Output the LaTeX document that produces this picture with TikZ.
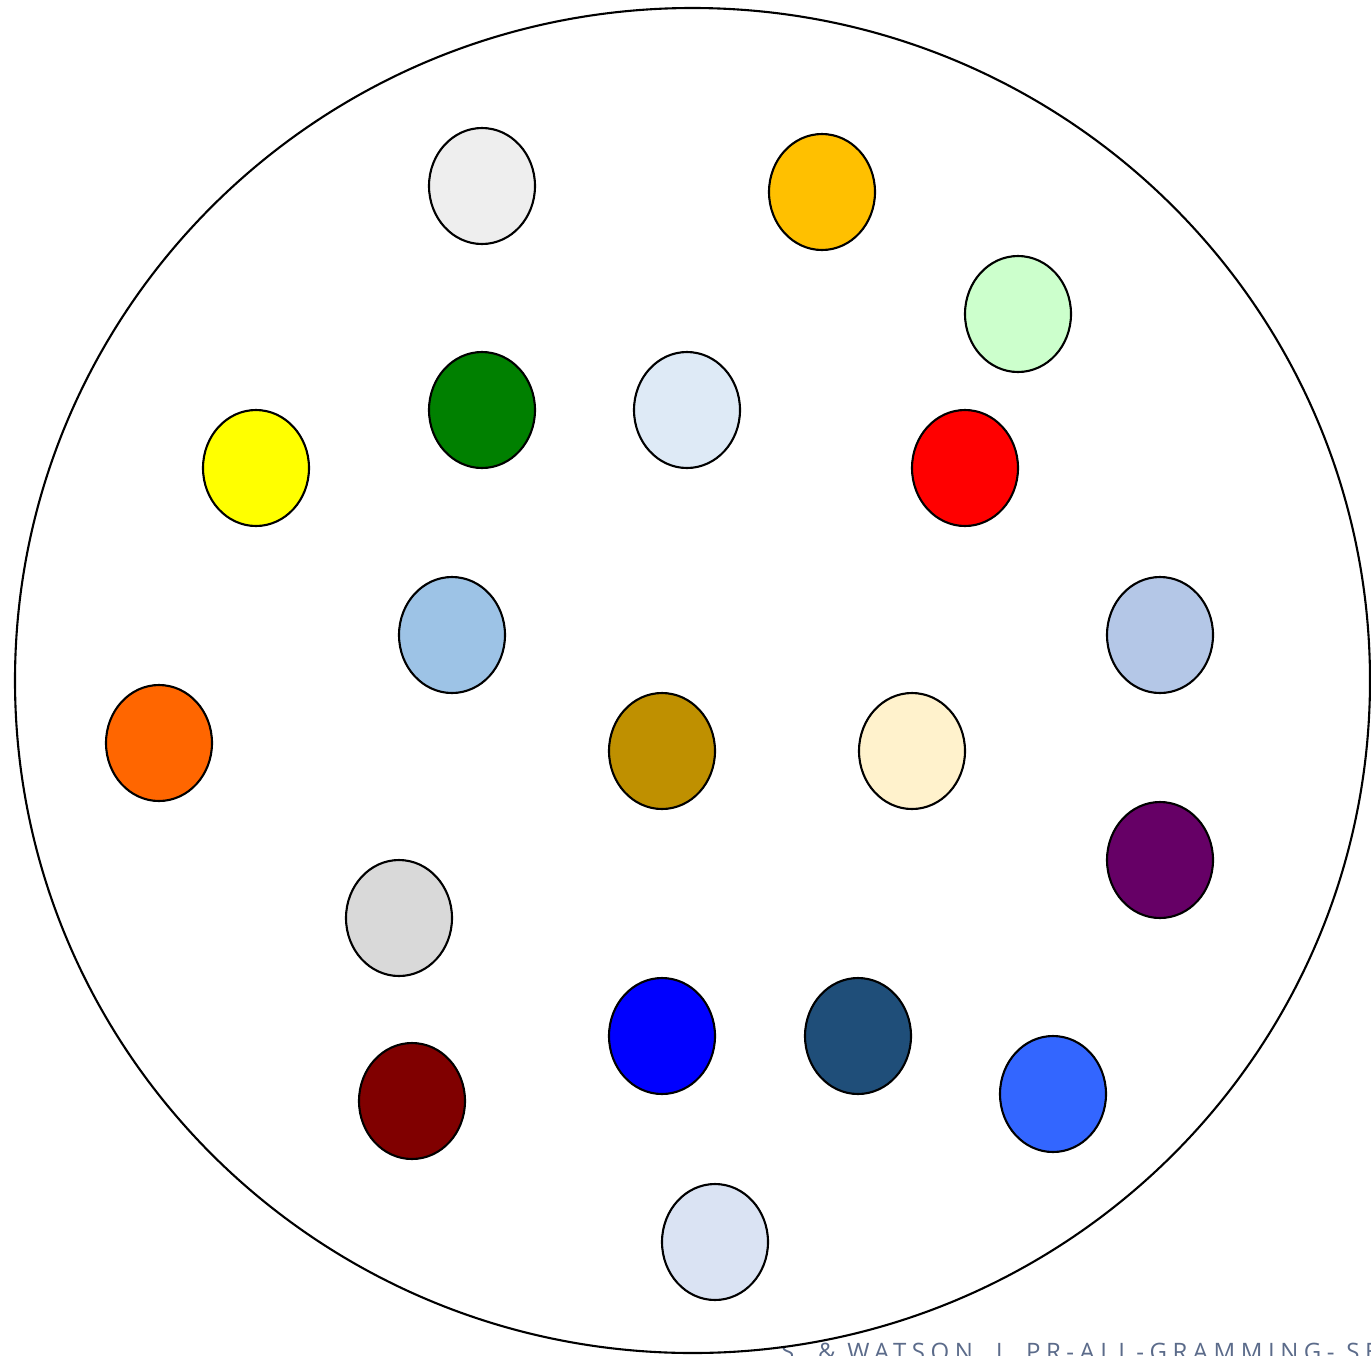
\documentclass[tikz,border=0pt]{standalone}
\usepackage{fontspec}
\newfontfamily\credfont[LetterSpace=23]{Open Sans}
\definecolor{cA}{HTML}{EEEEEE}
\definecolor{cB}{HTML}{FFC000}
\definecolor{cC}{HTML}{CCFFCC}
\definecolor{cD}{HTML}{008000}
\definecolor{cE}{HTML}{DEEAF6}
\definecolor{cF}{HTML}{FF0000}
\definecolor{cG}{HTML}{FFFF00}
\definecolor{cH}{HTML}{9DC3E6}
\definecolor{cI}{HTML}{B4C7E7}
\definecolor{cJ}{HTML}{FF6600}
\definecolor{cK}{HTML}{BF9000}
\definecolor{cL}{HTML}{FFF2CC}
\definecolor{cM}{HTML}{660066}
\definecolor{cN}{HTML}{D9D9D9}
\definecolor{cO}{HTML}{0000FF}
\definecolor{cP}{HTML}{1F4E79}
\definecolor{cQ}{HTML}{3366FF}
\definecolor{cR}{HTML}{800000}
\definecolor{cS}{HTML}{DAE3F3}
\definecolor{credcol}{HTML}{5B6B8A}
\tikzset{
  dot/.style={ellipse, draw=black, line width=2.1pt, minimum width=106pt, minimum height=116pt, inner sep=0pt},
  bigring/.style={draw=black, line width=2.1pt, fill=white}
}
\usetikzlibrary{shapes.geometric}
\begin{document}
\begin{tikzpicture}[x=1pt,y=-1pt]
\useasboundingbox (0,0) rectangle (1371,1355);
\clip (0,0) rectangle (1371,1355);
\node[anchor=base west, inner sep=0pt, text=credcol, font=\credfont\fontsize{24}{24}\selectfont] (cred) at (781,1360) {S. \& WATSON, J. PR-ALL-GRAMMING- SE};
\draw[bigring] (692.5,680.5) ellipse [x radius=677.5, y radius=672.5];
\node[dot, fill=cA] (n1) at (482,186) {};
\node[dot, fill=cB] (n2) at (822,192) {};
\node[dot, fill=cC] (n3) at (1018,314) {};
\node[dot, fill=cD] (n4) at (482,410) {};
\node[dot, fill=cE] (n5) at (687,410) {};
\node[dot, fill=cF] (n6) at (965,468) {};
\node[dot, fill=cG] (n7) at (256,468) {};
\node[dot, fill=cH] (n8) at (452,635) {};
\node[dot, fill=cI] (n9) at (1160,635) {};
\node[dot, fill=cJ] (n10) at (159,743) {};
\node[dot, fill=cK] (n11) at (662,751) {};
\node[dot, fill=cL] (n12) at (912,751) {};
\node[dot, fill=cM] (n13) at (1160,860) {};
\node[dot, fill=cN] (n14) at (399,918) {};
\node[dot, fill=cO] (n15) at (662,1036) {};
\node[dot, fill=cP] (n16) at (858,1036) {};
\node[dot, fill=cQ] (n17) at (1053,1094) {};
\node[dot, fill=cR] (n18) at (412,1101) {};
\node[dot, fill=cS] (n19) at (715,1242) {};
\end{tikzpicture}
\end{document}
